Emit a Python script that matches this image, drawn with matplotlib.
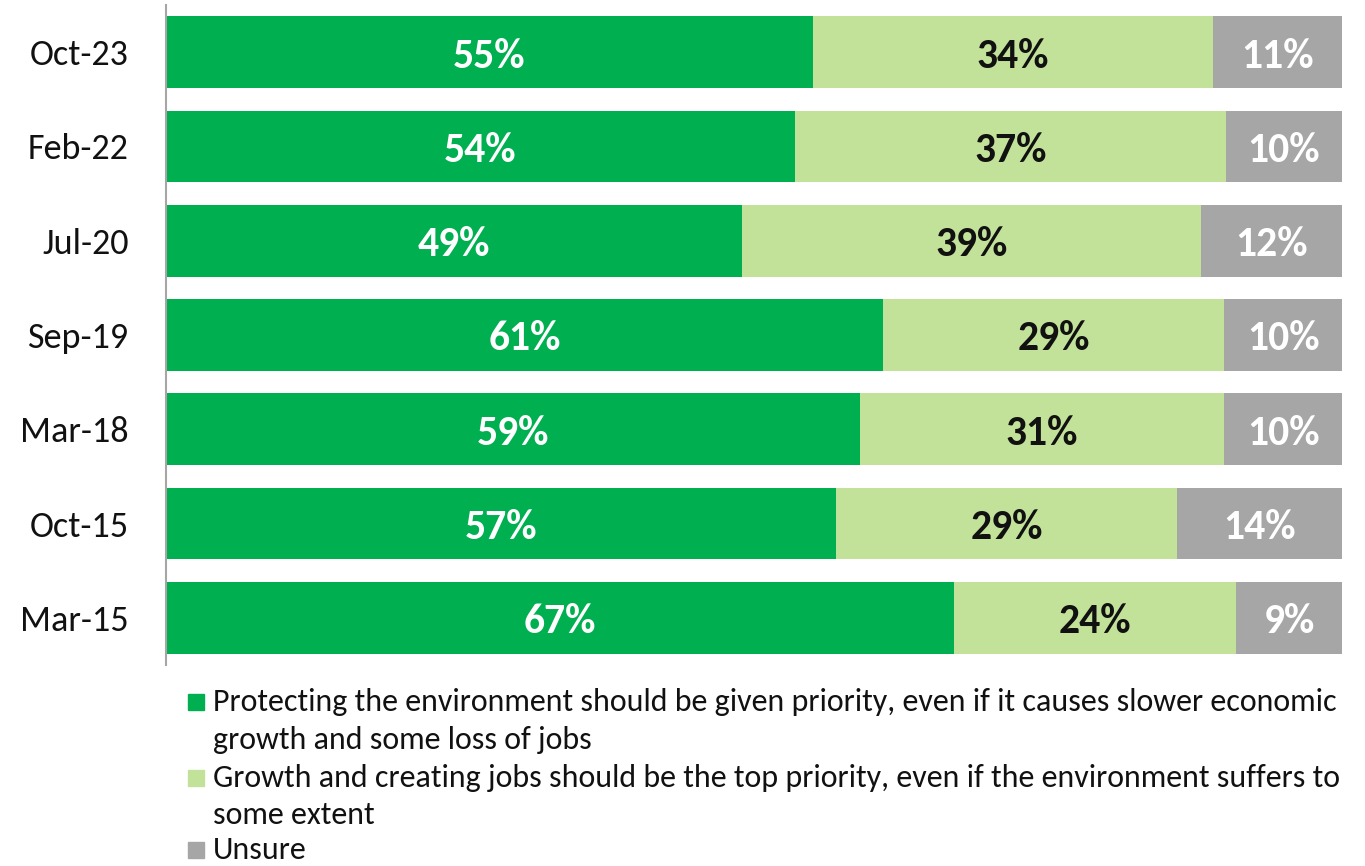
import matplotlib
matplotlib.use("Agg")
import matplotlib.pyplot as plt
from matplotlib.patches import Rectangle
import numpy as np

plt.rcParams['font.family'] = ['Carlito', 'DejaVu Sans']

categories = ["Oct-23", "Feb-22", "Jul-20", "Sep-19", "Mar-18", "Oct-15", "Mar-15"]
protect = [55, 54, 49, 61, 59, 57, 67]
growth = [34, 37, 39, 29, 31, 29, 24]
unsure = [11, 10, 12, 10, 10, 14, 9]

series_names = [
    "Protecting the environment should be given priority, even if it causes slower economic\ngrowth and some loss of jobs",
    "Growth and creating jobs should be the top priority, even if the environment suffers to\nsome extent",
    "Unsure",
]
colors = ["#00B050", "#C2E29A", "#A6A6A6"]
label_colors = ["white", "#111111", "white"]

W, H = 1365, 866
fig = plt.figure(figsize=(W / 100, H / 100), dpi=100)
ax = fig.add_axes([166 / W, 1 - 665 / H, (1342 - 166) / W, (665 - 5) / H])

data = np.array([protect, growth, unsure], dtype=float)
totals = data.sum(axis=0)
shares = data / totals * 100
y = np.arange(len(categories))[::-1]

left = np.zeros(len(categories))
for i in range(3):
    ax.barh(y, shares[i], left=left, height=0.76, color=colors[i], edgecolor="none")
    for j in range(len(categories)):
        ax.annotate(f"{int(data[i][j])}%", (left[j] + shares[i][j] / 2, y[j]),
                    xytext=(0, -4), textcoords="offset pixels",
                    ha="center", va="center", fontsize=30, fontweight="bold",
                    color=label_colors[i])
    left += shares[i]

ax.set_xlim(0, 100)
ax.set_ylim(-0.5, len(categories) - 0.5)
ax.set_yticks(y)
ax.set_yticklabels(categories, fontsize=26, color="#111111")
ax.tick_params(axis="y", length=0, pad=27)
ax.set_xticks([])
for s in ["top", "right", "bottom"]:
    ax.spines[s].set_visible(False)
ax.spines["left"].set_color("#A6A6A6")
ax.spines["left"].set_linewidth(1.5)

# legend (baselines in pixels from top)
line_ys = [[711, 749], [787, 824], [859]]
for i in range(3):
    ys = line_ys[i]
    fig.patches.append(Rectangle((188 / W, 1 - (ys[0] - 1) / H), 16 / W, 16 / H,
                                 transform=fig.transFigure, color=colors[i]))
    for k, line in enumerate(series_names[i].split("\n")):
        fig.text(213 / W, 1 - ys[k] / H, line, ha="left", va="baseline",
                 fontsize=23, color="#111111")

fig.savefig("out.png", dpi=100)
